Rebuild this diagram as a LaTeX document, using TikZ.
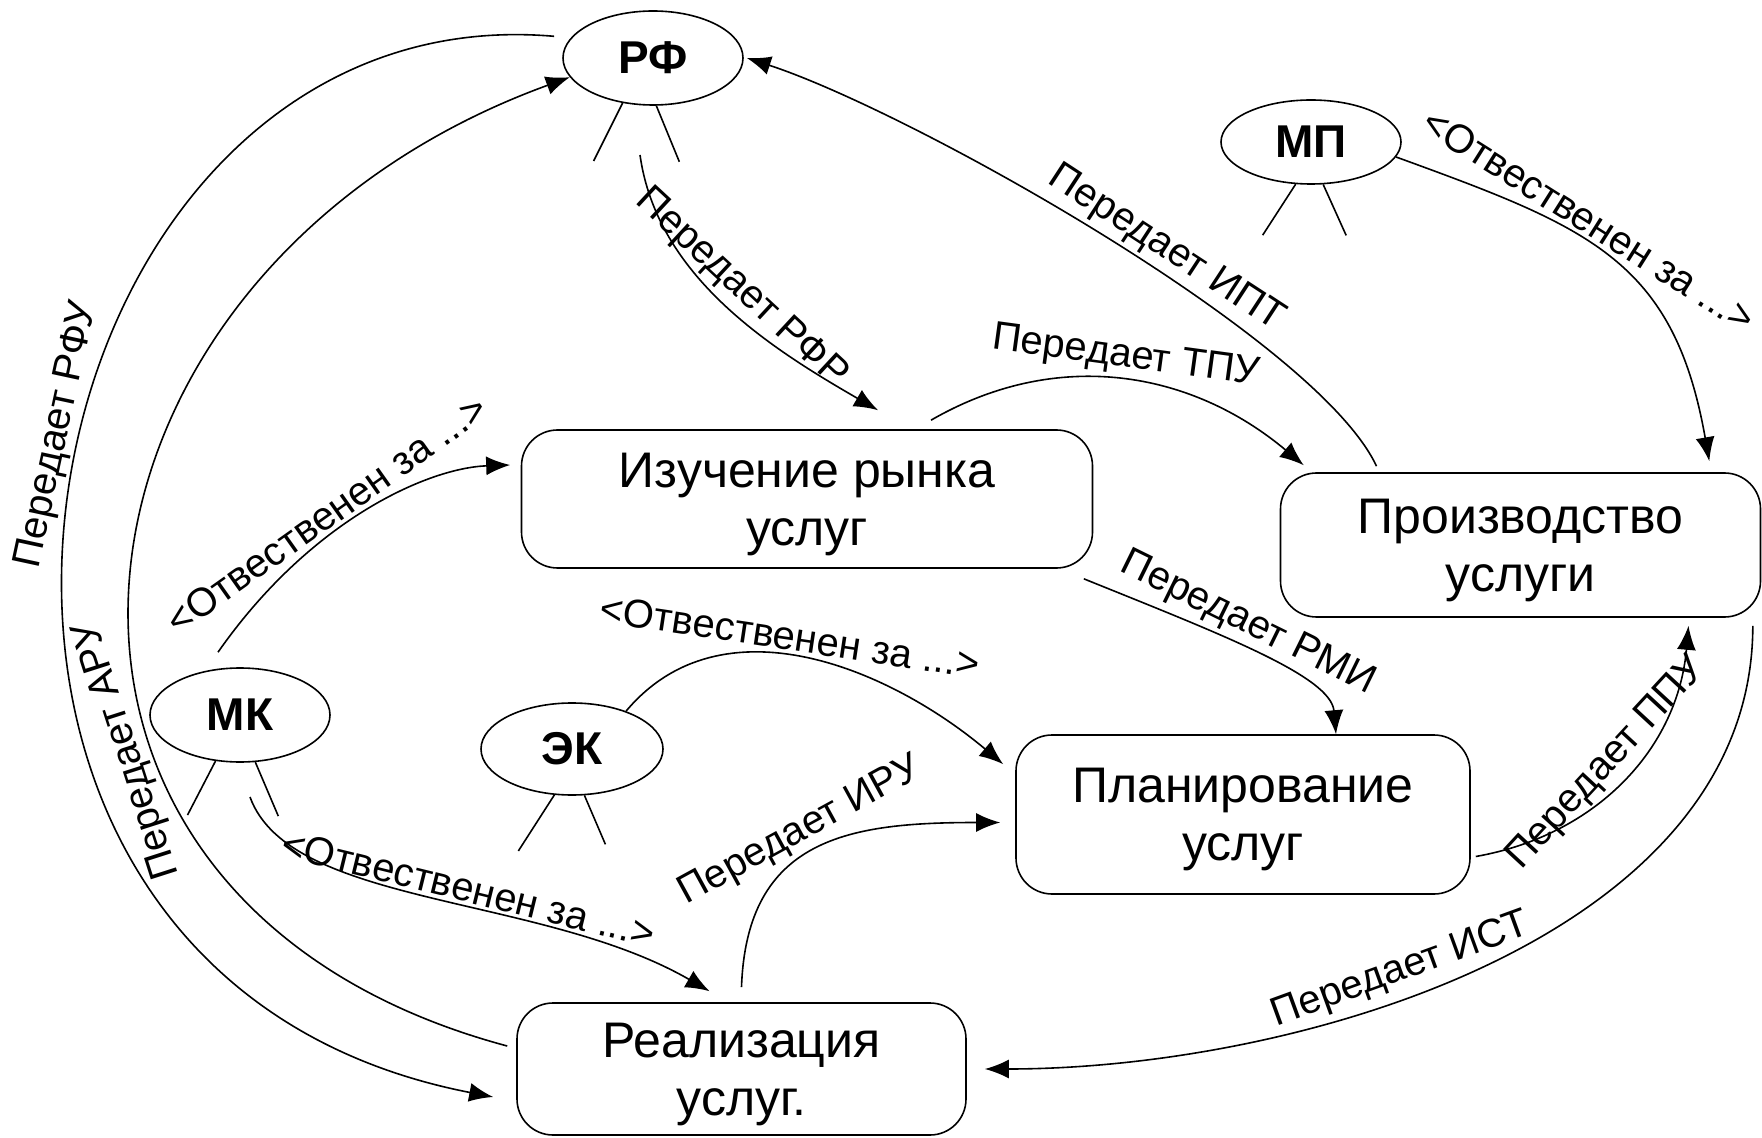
\documentclass[tikz,border=0pt]{standalone}
\usepackage{fontspec}
\setmainfont{Liberation Sans}
\usetikzlibrary{shapes.geometric, arrows.meta}
\tikzstyle{actor}=[draw, ellipse, inner sep=0pt, font=\fontsize{23pt}{26pt}\selectfont\bfseries]
\tikzstyle{proc}=[draw, rounded corners=18pt, align=center, text depth=0pt, font=\fontsize{25pt}{29pt}\selectfont]
\tikzstyle{lbl}=[sloped, anchor=south, inner sep=2pt, font=\fontsize{20pt}{22pt}\selectfont]

\begin{document}
\begin{tikzpicture}[x=0.5pt,y=0.5pt,auto,line width=0.8pt,>={Latex[length=12pt,width=9.5pt]}]
      \useasboundingbox (0,0) rectangle (1762,1137);
      \node [actor, minimum width=90pt, minimum height=47pt] (rf) at (653,1079) {РФ};
      \node [actor, minimum width=90pt, minimum height=42pt] (mp) at (1311,995) {МП};
      \node [actor, minimum width=90pt, minimum height=47pt] (mk) at (240,422) {МК};
      \node [actor, minimum width=91pt, minimum height=46pt] (ek) at (572,388) {ЭК};
      \node [proc, minimum width=285.5pt, minimum height=69pt] (izu) at (807,638) {Изучение рынка\\услуг};
      \node [proc, minimum width=240pt, minimum height=72pt] (pro) at (1520.5,592) {Производство\\услуги};
      \node [proc, minimum width=227pt, minimum height=79.5pt] (pla) at (1243,322.5) {Планирование\\услуг};
      \node [proc, minimum width=224.5pt, minimum height=66pt] (rea) at (741.5,68) {Реализация\\услуг.};
      \node (rfo) [below of=rf, node distance=48.5pt, xshift=-6.5pt, coordinate] {};
      \node (mko) [below of=mk, node distance=41pt, xshift=5pt, coordinate] {};
      % short strokes under the ellipses
      \draw (rf.236) -- ++(-29,-58);
      \draw (rf.274) -- ++(23,-56);
      \draw (mp.250) -- ++(-33,-51);
      \draw (mp.286) -- ++(23,-51);
      \draw (mk.242) -- ++(-28,-54);
      \draw (mk.288) -- ++(23,-54);
      \draw (ek.249) -- ++(-36,-56);
      \draw (ek.285) -- ++(21,-49);
      % flows
      \path[->] (rfo) edge [out=-82, in=150, looseness=0.9] node [lbl] {Передает РФР} ([xshift=35.5pt, yshift=9.5pt]izu.north);
      \path[->] ([xshift=62pt, yshift=4.5pt]izu.north) edge [out=30, in=140] node [lbl] {Передает ТПУ} ([xshift=12pt, yshift=3.5pt]pro.north west);
      \path[->] ([xshift=-72pt, yshift=3pt]pro.north) edge [out=115, in=-18, out looseness=0.48, in looseness=0.58] node [lbl, pos=0.43] {Передает ИПТ} ([xshift=1.5pt]rf.east);
      \path[->] (mp.-10) edge [out=-20, in=100, looseness=1.2] node [lbl, pos=0.4] {<Отвественен за ...>} ([xshift=-26pt, yshift=5.5pt]pro.north east);
      \path[->] ([xshift=-4.75pt, yshift=-5pt]izu.south east) edge [out=-22, in=95, out looseness=1.3, in looseness=0.5] node [lbl, pos=0.42] {Передает РМИ} ([xshift=46.5pt]pla.north);
      \path[->] ([xshift=-11pt, yshift=7.5pt]mk.north) edge [out=55, in=182, out looseness=1.2, in looseness=0.6] node [lbl, pos=0.4] {<Отвественен за ...>} ([xshift=-5.25pt, yshift=17pt]izu.west);
      \path[->] (mko) edge [out=-70, in=150, out looseness=0.6, in looseness=1.0] node [lbl, pos=0.56] {<Отвественен за ...>} ([xshift=-16pt, yshift=5.5pt]rea.north);
      \path[->] (ek.35) edge [out=50, in=140] node [lbl, pos=0.45] {<Отвественен за ...>} ([xshift=-6pt, yshift=-15pt]pla.north west);
      \path[->] ([yshift=7.5pt]rea.north) edge [out=88, in=180, looseness=1.25] node [lbl, pos=0.48] {Передает ИРУ} ([xshift=-7.5pt, yshift=-4pt]pla.west);
      \path[->] ([xshift=2.5pt, yshift=-21pt]pla.east) edge [out=10, in=-95] node [lbl] {Передает ППУ} ([xshift=84pt, yshift=-4pt]pro.south);
      \path[->] ([xshift=-4.25pt, yshift=-4pt]pro.south east) edge [out=-90, in=0, looseness=0.9] node [lbl, pos=0.58, inner sep=4pt] {Передает ИСТ} ([xshift=9pt]rea.east);
      \path[->] ([xshift=-9pt]rf.165) edge [out=175, in=169, out looseness=1.32, in looseness=1.63] node [lbl, pos=0.46] {Передает РФУ} ([xshift=-11.5pt, yshift=-14pt]rea.west);
      \path[->] ([xshift=-4.5pt, yshift=11.5pt]rea.west) edge [out=165, in=200, looseness=1.5] node [lbl, pos=0.36, allow upside down] {Передает АРУ} (rf.193);
  \end{tikzpicture}
\end{document}
